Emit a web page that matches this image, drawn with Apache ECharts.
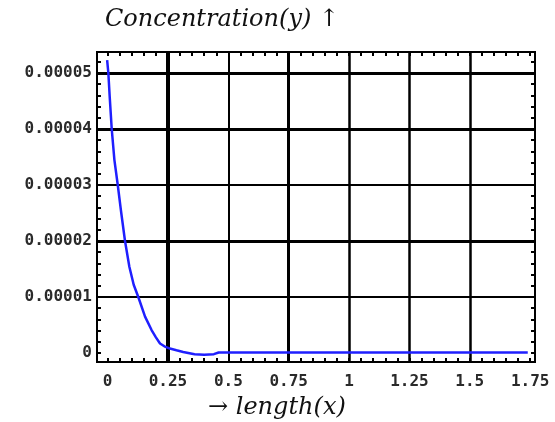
<!DOCTYPE html>
<html>
<head>
<meta charset="utf-8">
<script src="https://cdn.jsdelivr.net/npm/echarts@6/dist/echarts.min.js"></script>
<style>
* { margin: 0; padding: 0; }
html, body { background: #fff; }
#chart-container { width: 555px; height: 422px; }
</style>
</head>
<body>
<div id="chart-container"></div>
<script>
// curve (x = length, y = concentration in units of 1e-5)
const xs = [-0.002, 0.003, 0.009, 0.017, 0.028, 0.042, 0.055, 0.072, 0.09, 0.108, 0.127, 0.155,
    0.182, 0.2, 0.217, 0.235, 0.258, 0.285, 0.313, 0.36, 0.40, 0.44, 0.46, 0.7, 1.0, 1.4, 1.74];
const ys = [5.23, 5.0, 4.55, 4.0, 3.45, 3.0, 2.55, 2.0, 1.54, 1.22, 1.0, 0.65,
    0.41, 0.28, 0.17, 0.12, 0.08, 0.05, 0.02, -0.02, -0.03, -0.02, 0.01,
    0.01, 0.01, 0.01, 0.01];
const yUnit = 1e-5;

// tick labels
const xLabels = [0, 0.25, 0.5, 0.75, 1, 1.25, 1.5, 1.75];
const yLabels = [0, 1, 2, 3, 4, 5];

// grid lines (value, line width)
const xGrid = [0.25, 0.5, 0.75, 1, 1.25, 1.5];
const xGridWidth = [4, 2, 3, 2.5, 2.5, 2.5];
const yGrid = [1, 2, 3, 4, 5];
const yGridWidth = [2, 3, 2, 3, 3];

// minor ticks
let xMinor = [];
for (let i = 0; i <= 35; i++) xMinor.push(+(i * 0.05).toFixed(2));
let yMinor = [];
for (let i = 0; i <= 26; i++) yMinor.push(+(i * 0.2).toFixed(1));

const xMin = -0.044, xMax = 1.77;
const yMin = -0.16, yMax = 5.375;

const dom = document.getElementById('chart-container');
const myChart = echarts.init(dom, null, {renderer: 'canvas'});

const tickFont = {
    fontFamily: 'DejaVu Sans Mono',
    fontWeight: 'bold',
    fontSize: 16,
    color: '#2a2a2a'
};
const tick = {
    show: true,
    inside: true,
    length: 4,
    lineStyle: {color: '#000', width: 2}
};
const serif = {fontFamily: 'DejaVu Serif', fontStyle: 'italic', fontWeight: 'normal', fontSize: 24, color: '#111'};

let markData = [];
for (let i = 0; i < xGrid.length; i++) {
    markData.push({xAxis: xGrid[i], lineStyle: {width: xGridWidth[i]}});
}
for (let i = 0; i < yGrid.length; i++) {
    markData.push({yAxis: yGrid[i], lineStyle: {width: yGridWidth[i]}});
}

let option = {
    backgroundColor: '#fff',
    animation: false,
    title: [
        {text: 'Concentration(y) ↑', left: 100, top: 3, textStyle: serif},
        {text: '→ length(x)', left: 203, top: 391, textStyle: serif}
    ],
    grid: {
        left: 97,
        right: 20,
        top: 52,
        bottom: 60,
        show: true,
        borderColor: '#000',
        borderWidth: 2,
        backgroundColor: 'transparent'
    },
    xAxis: [
        {
            type: 'value',
            min: xMin,
            max: xMax,
            position: 'bottom',
            axisLine: {show: false, onZero: false},
            splitLine: {show: false},
            axisTick: Object.assign({customValues: xMinor}, tick),
            axisLabel: Object.assign({
                customValues: xLabels,
                margin: 12,
                formatter: v => String(v)
            }, tickFont)
        },
        {
            type: 'value',
            min: xMin,
            max: xMax,
            position: 'top',
            axisLine: {show: false, onZero: false},
            splitLine: {show: false},
            axisTick: Object.assign({customValues: xMinor}, tick),
            axisLabel: {show: false}
        }
    ],
    yAxis: [
        {
            type: 'value',
            min: yMin,
            max: yMax,
            position: 'left',
            axisLine: {show: false, onZero: false},
            splitLine: {show: false},
            axisTick: Object.assign({customValues: yMinor}, tick),
            axisLabel: Object.assign({
                customValues: yLabels,
                margin: 5,
                formatter: v => v === 0 ? '0' : (v * yUnit).toFixed(5)
            }, tickFont)
        },
        {
            type: 'value',
            min: yMin,
            max: yMax,
            position: 'right',
            axisLine: {show: false, onZero: false},
            splitLine: {show: false},
            axisTick: Object.assign({customValues: yMinor}, tick),
            axisLabel: {show: false}
        }
    ],
    series: [
        {
            type: 'line',
            xAxisIndex: 0,
            yAxisIndex: 0,
            data: xs.map((x, i) => [x, ys[i]]),
            showSymbol: false,
            smooth: false,
            lineStyle: {color: '#1f1fff', width: 2.5},
            z: 3,
            markLine: {
                silent: true,
                symbol: 'none',
                label: {show: false},
                lineStyle: {color: '#000', type: 'solid'},
                data: markData,
                z: 1
            }
        }
    ]
};

myChart.setOption(option);
</script>
</body>
</html>
